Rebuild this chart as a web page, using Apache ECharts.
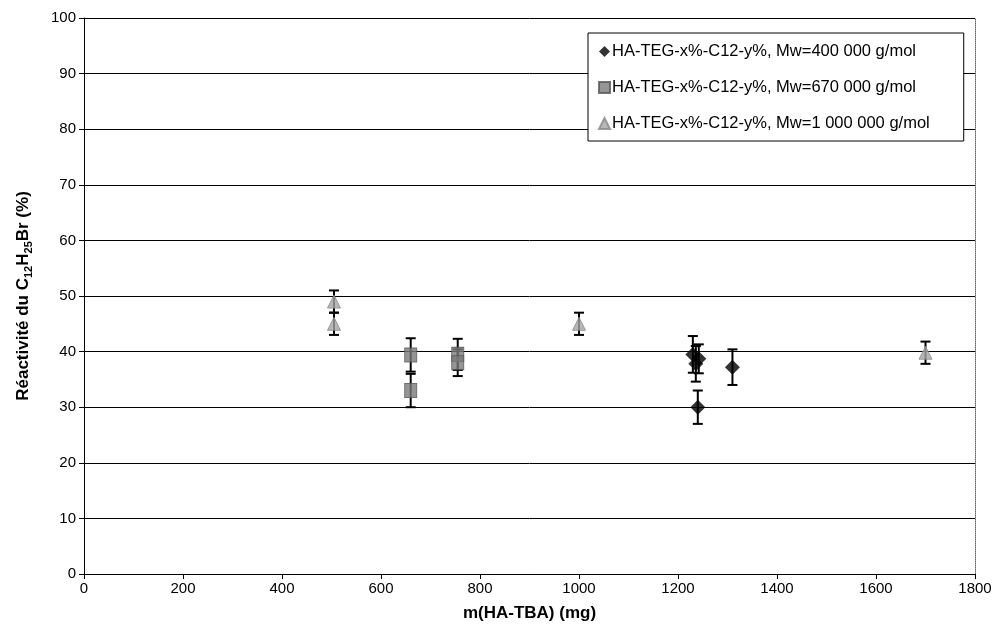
<!DOCTYPE html>
<html>
<head>
<meta charset="utf-8">
<script src="https://cdn.jsdelivr.net/npm/echarts@6/dist/echarts.min.js"></script>
<style>html,body{margin:0;padding:0;background:#fff}#c{width:996px;height:642px}</style>
</head>
<body>
<div id="c"></div>
<script>
// ---- data ----
var seriesNames = [
  'HA-TEG-x%-C12-y%, Mw=400 000 g/mol',
  'HA-TEG-x%-C12-y%, Mw=670 000 g/mol',
  'HA-TEG-x%-C12-y%, Mw=1 000 000 g/mol'
];
// Mw 400 000
var x400 = [1230, 1236, 1242, 1240, 1310];
var y400 = [39.5, 37.8, 38.7, 30.0, 37.2];
var e400 = [3.3, 3.2, 2.6, 3.0, 3.2];
// Mw 670 000
var x670 = [660, 660, 755, 755];
var y670 = [39.4, 33.0, 39.5, 38.0];
var e670 = [3.0, 3.0, 2.8, 2.4];
// Mw 1 000 000
var x1000 = [505, 505, 1000, 1700];
var y1000 = [49.0, 45.0, 45.0, 39.8];
var e1000 = [2.0, 2.0, 2.0, 2.0];

var xTicks = [0, 200, 400, 600, 800, 1000, 1200, 1400, 1600, 1800];
var yTicks = [0, 10, 20, 30, 40, 50, 60, 70, 80, 90, 100];

function pts(xs, ys) { return xs.map(function (x, i) { return [x, ys[i]]; }); }
function errs(xs, ys, es) { return xs.map(function (x, i) { return [x, ys[i] - es[i], ys[i] + es[i]]; }); }

function errRender(params, api) {
  var x = api.value(0);
  var lo = api.coord([x, api.value(1)]);
  var hi = api.coord([x, api.value(2)]);
  var w = 5;
  var st = { stroke: '#000', lineWidth: 2 };
  return {
    type: 'group',
    children: [
      { type: 'line', shape: { x1: lo[0], y1: lo[1], x2: hi[0], y2: hi[1] }, style: st },
      { type: 'line', shape: { x1: lo[0] - w, y1: lo[1], x2: lo[0] + w, y2: lo[1] }, style: st },
      { type: 'line', shape: { x1: hi[0] - w, y1: hi[1], x2: hi[0] + w, y2: hi[1] }, style: st }
    ]
  };
}

var FONT = '"Liberation Sans", Arial, sans-serif';
var chart = echarts.init(document.getElementById('c'));
chart.setOption({
  animation: false,
  textStyle: { fontFamily: FONT },
  grid: { left: 84, right: 21, top: 18, bottom: 68, show: false },
  legend: {
    orient: 'vertical',
    left: 588, top: 33,
    padding: [10, 34, 9, 10],
    itemGap: 19,
    itemWidth: 11, itemHeight: 11,
    backgroundColor: '#fff',
    borderColor: '#000', borderWidth: 1,
    textStyle: { fontFamily: FONT, fontSize: 16.5, color: '#000', padding: [0, 0, 0, -3] },
    data: [
      { name: seriesNames[0], icon: 'diamond' },
      { name: seriesNames[1], icon: 'rect' },
      { name: seriesNames[2], icon: 'triangle' }
    ]
  },
  xAxis: {
    type: 'value', min: 0, max: 1800, interval: 200,
    name: 'm(HA-TBA) (mg)', nameLocation: 'middle', nameGap: 31,
    nameTextStyle: { fontFamily: FONT, fontSize: 17, fontWeight: 'bold', color: '#000' },
    axisLine: { lineStyle: { color: '#000', width: 1 } },
    axisTick: { show: true, length: 5, lineStyle: { color: '#000' } },
    axisLabel: { fontSize: 15, color: '#000', margin: 7,
      formatter: function (v) { return xTicks.indexOf(v) >= 0 ? String(v) : ''; } },
    splitLine: { show: false }
  },
  yAxis: [{
    type: 'value', min: 0, max: 100, interval: 10,
    name: '{a|Réactivité du C}{s|12}{a|H}{s|25}{a|Br (%)}',
    nameLocation: 'middle', nameGap: 50,
    nameTextStyle: {
      rich: {
        a: { fontFamily: FONT, fontSize: 17, fontWeight: 'bold', color: '#000', lineHeight: 22 },
        s: { fontFamily: FONT, fontSize: 11, fontWeight: 'bold', color: '#000', lineHeight: 12, verticalAlign: 'bottom' }
      }
    },
    axisLine: { show: true, lineStyle: { color: '#000', width: 1 } },
    axisTick: { show: true, length: 5, lineStyle: { color: '#000' } },
    axisLabel: { fontSize: 15, color: '#000', margin: 8,
      formatter: function (v) { return yTicks.indexOf(v) >= 0 ? String(v) : ''; } },
    splitLine: { show: true, lineStyle: { color: '#000', width: 1 } }
  }, {
    type: 'value', min: 0, max: 100, interval: 10, position: 'right',
    axisLine: { show: true, lineStyle: { color: '#666', width: 1, type: 'dotted' } },
    axisTick: { show: false }, axisLabel: { show: false }, splitLine: { show: false }
  }],
  series: [
    { type: 'custom', renderItem: errRender, data: errs(x400, y400, e400), z: 2, silent: true, encode: { x: 0, y: [1, 2] } },
    { type: 'custom', renderItem: errRender, data: errs(x670, y670, e670), z: 2, silent: true, encode: { x: 0, y: [1, 2] } },
    { type: 'custom', renderItem: errRender, data: errs(x1000, y1000, e1000), z: 2, silent: true, encode: { x: 0, y: [1, 2] } },
    { name: seriesNames[0], type: 'scatter', data: pts(x400, y400), symbol: 'diamond', symbolSize: 15,
      itemStyle: { color: '#000' }, z: 5 },
    { name: seriesNames[1], type: 'scatter', data: pts(x670, y670), symbol: 'rect', symbolSize: [12, 14],
      itemStyle: { color: '#7a7a7a', borderColor: '#555', borderWidth: 1 }, z: 5 },
    { name: seriesNames[2], type: 'scatter', data: pts(x1000, y1000), symbol: 'triangle', symbolSize: [13, 13],
      itemStyle: { color: '#a5a5a5', borderColor: '#888', borderWidth: 1 }, z: 5 }
  ]
});
</script>
</body>
</html>
